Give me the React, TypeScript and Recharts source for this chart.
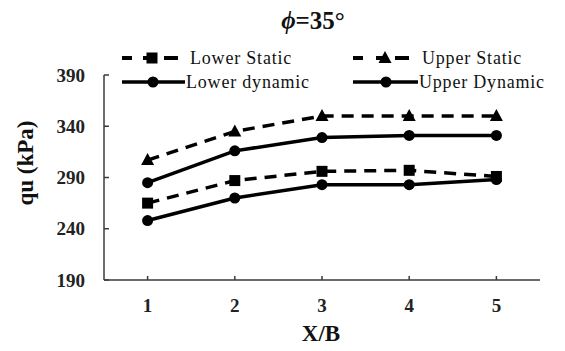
import React from "react";
import { LineChart, Line, XAxis, YAxis } from "recharts";

// X/B ratios and bearing capacity qu (kPa) for each bound
const xbRatios = [1, 2, 3, 4, 5];
const lowerStatic = [265, 287, 296, 297, 291];
const upperStatic = [307, 335, 350, 350, 350];
const lowerDynamic = [248, 270, 283, 283, 288];
const upperDynamic = [285, 316, 329, 331, 331];
const yTicks = [190, 240, 290, 340, 390];

const rows = xbRatios.map((x, i) => ({
  x,
  lowerStatic: lowerStatic[i],
  upperStatic: upperStatic[i],
  lowerDynamic: lowerDynamic[i],
  upperDynamic: upperDynamic[i],
}));

const FONT = '"Liberation Serif", "Times New Roman", serif';
const AXIS = "#3a3a3a";

const Square = (p: any) => {
  if (p.cx == null) return null;
  return <rect key={p.key} x={p.cx - 5.5} y={p.cy - 5.5} width={11} height={11} fill="#000" />;
};
const Triangle = (p: any) => {
  if (p.cx == null) return null;
  return (
    <polygon
      key={p.key}
      points={`${p.cx},${p.cy - 7} ${p.cx + 6.5},${p.cy + 5} ${p.cx - 6.5},${p.cy + 5}`}
      fill="#000"
    />
  );
};
const Circle = (p: any) => {
  if (p.cx == null) return null;
  return <circle key={p.key} cx={p.cx} cy={p.cy} r={5.5} fill="#000" />;
};

const YTick = (p: any) => (
  <g>
    <line x1={p.x} x2={p.x + 5} y1={p.y} y2={p.y} stroke={AXIS} strokeWidth={1.5} />
    <text
      x={p.x - 19}
      y={p.y}
      dy="0.35em"
      textAnchor="end"
      fontFamily={FONT}
      fontWeight="bold"
      fontSize={19}
      fill="#222"
    >
      {p.payload.value}
    </text>
  </g>
);

const XTick = (p: any) => (
  <g>
    <line x1={p.x} x2={p.x} y1={p.y} y2={p.y - 4} stroke={AXIS} strokeWidth={1.5} />
    <text
      x={p.x}
      y={p.y + 25}
      dy="0.35em"
      textAnchor="middle"
      fontFamily={FONT}
      fontWeight="bold"
      fontSize={19}
      fill="#222"
    >
      {p.payload.value}
    </text>
  </g>
);

type LegendItem = {
  label: string;
  x: number;
  y: number;
  dashed: boolean;
  marker: "square" | "triangle" | "circle";
  markerX: number;
  lineEnd: number;
  textX: number;
};

const legendItems: LegendItem[] = [
  { label: "Lower Static", x: 122, y: 58, dashed: true, marker: "square", markerX: 152, lineEnd: 178, textX: 190 },
  { label: "Upper Static", x: 353, y: 58, dashed: true, marker: "triangle", markerX: 385, lineEnd: 409, textX: 422 },
  { label: "Lower dynamic", x: 122, y: 82, dashed: false, marker: "circle", markerX: 153, lineEnd: 185, textX: 186 },
  { label: "Upper Dynamic", x: 353, y: 82, dashed: false, marker: "circle", markerX: 386, lineEnd: 418, textX: 419 },
];

const LegendMarker = ({ kind, cx, cy }: { kind: string; cx: number; cy: number }) => {
  if (kind === "square") return <rect x={cx - 5.5} y={cy - 5.5} width={11} height={11} fill="#000" />;
  if (kind === "triangle")
    return <polygon points={`${cx},${cy - 7} ${cx + 6.5},${cy + 5} ${cx - 6.5},${cy + 5}`} fill="#000" />;
  return <circle cx={cx} cy={cy} r={5.5} fill="#000" />;
};

export default function App() {
  return (
    <div style={{ position: "absolute", left: 0, top: 0, width: 565, height: 351, background: "#fff" }}>
      <LineChart
        width={565}
        height={351}
        data={rows}
        margin={{ top: 75, right: 25, bottom: 31, left: 44 }}
      >
        <XAxis
          dataKey="x"
          type="number"
          domain={[0.5, 5.5]}
          ticks={xbRatios}
          tickSize={0}
          tickMargin={0}
          tickLine={false}
          tick={<XTick />}
          height={40}
          stroke={AXIS}
          strokeWidth={1.5}
          interval={0}
        />
        <YAxis
          type="number"
          domain={[190, 390]}
          ticks={yTicks}
          tickSize={0}
          tickMargin={0}
          tickLine={false}
          tick={<YTick />}
          width={60}
          stroke={AXIS}
          strokeWidth={1.5}
          interval={0}
        />
        <Line
          dataKey="upperStatic"
          stroke="#000"
          strokeWidth={3.5}
          strokeDasharray="12 8"
          dot={Triangle}
          isAnimationActive={false}
        />
        <Line
          dataKey="upperDynamic"
          stroke="#000"
          strokeWidth={3.5}
          dot={Circle}
          isAnimationActive={false}
        />
        <Line
          dataKey="lowerStatic"
          stroke="#000"
          strokeWidth={3.5}
          strokeDasharray="12 8"
          dot={Square}
          isAnimationActive={false}
        />
        <Line
          dataKey="lowerDynamic"
          stroke="#000"
          strokeWidth={3.5}
          dot={Circle}
          isAnimationActive={false}
        />
      </LineChart>
      <svg
        width={565}
        height={351}
        style={{ position: "absolute", left: 0, top: 0, pointerEvents: "none" }}
      >
        <text x={313} y={29} textAnchor="middle" fontFamily={FONT} fontWeight="bold" fontSize={25} fill="#111">
          <tspan fontStyle="italic">ϕ</tspan>
          <tspan>=35°</tspan>
        </text>
        {legendItems.map((it) => (
          <g key={it.label}>
            {it.dashed ? (
              <g>
                <line x1={it.x} x2={it.x + 10} y1={it.y} y2={it.y} stroke="#000" strokeWidth={4} />
                <line x1={it.markerX - 9} x2={it.markerX + 2} y1={it.y} y2={it.y} stroke="#000" strokeWidth={4} />
                <line x1={it.lineEnd - 14} x2={it.lineEnd} y1={it.y} y2={it.y} stroke="#000" strokeWidth={4} />
              </g>
            ) : (
              <line x1={it.x} x2={it.lineEnd} y1={it.y} y2={it.y} stroke="#000" strokeWidth={3.5} />
            )}
            <LegendMarker kind={it.marker} cx={it.markerX} cy={it.y} />
            <text
              x={it.textX}
              y={it.y}
              dy="0.35em"
              fontFamily={FONT}
              fontSize={18}
              letterSpacing={0.8}
              fill="#111"
            >
              {it.label}
            </text>
          </g>
        ))}
        <text
          x={321}
          y={333}
          dy="0.35em"
          textAnchor="middle"
          fontFamily={FONT}
          fontWeight="bold"
          fontSize={23}
          fill="#111"
        >
          X/B
        </text>
        <text
          transform="translate(25,163) rotate(-90)"
          textAnchor="middle"
          dy="0.35em"
          fontFamily={FONT}
          fontWeight="bold"
          fontSize={23}
          fill="#111"
        >
          qu (kPa)
        </text>
      </svg>
    </div>
  );
}
